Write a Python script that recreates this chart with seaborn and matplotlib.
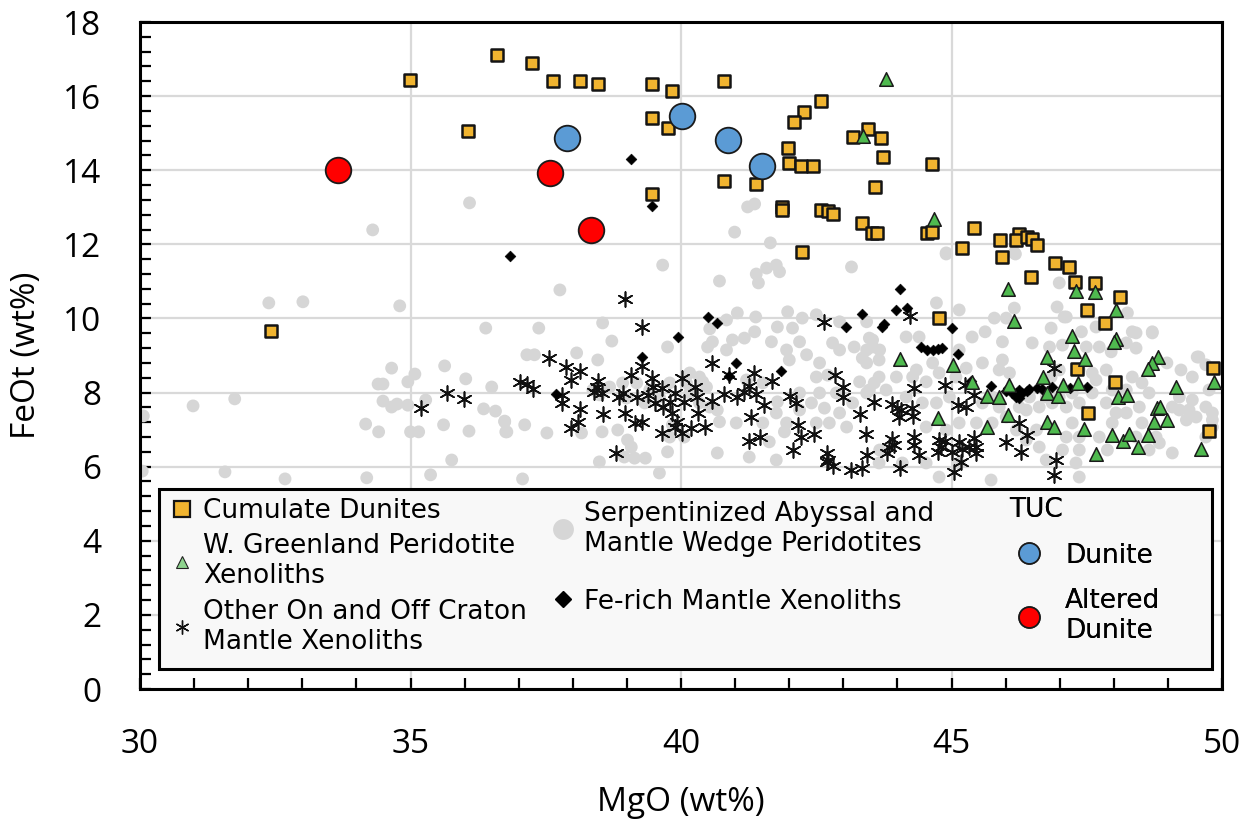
import matplotlib
matplotlib.use("Agg")
import matplotlib.pyplot as plt
from matplotlib.lines import Line2D
from matplotlib.patches import Rectangle
from matplotlib.ticker import MultipleLocator
import seaborn as sns
import pandas as pd

# ---- data: (MgO wt%, FeOt wt%) ----
cumulate_dunites = [
    (34.99, 16.44), (36.59, 17.11), (37.24, 16.90), (37.63, 16.41), (38.13, 16.41),
    (38.46, 16.33), (39.46, 16.33), (39.84, 16.14), (40.80, 16.41), (36.06, 15.06),
    (39.46, 15.41), (39.75, 15.14), (42.28, 15.57), (42.08, 15.30), (42.58, 15.87),
    (41.97, 14.60), (41.99, 14.20), (42.21, 14.12), (42.43, 14.12), (40.80, 13.71),
    (41.39, 13.63), (39.46, 13.36), (41.87, 13.01), (41.87, 12.93), (42.59, 12.93),
    (42.71, 12.90), (42.80, 12.82), (43.35, 12.58), (43.52, 12.31), (43.63, 12.31),
    (43.17, 14.90), (43.46, 15.11), (43.70, 14.87), (43.74, 14.36), (44.63, 14.17),
    (43.59, 13.55), (44.55, 12.31), (44.63, 12.33), (45.42, 12.44), (45.20, 11.90),
    (45.90, 12.12), (45.94, 11.66), (46.25, 12.28), (46.20, 12.12), (46.40, 12.20),
    (46.49, 12.15), (46.58, 11.98), (46.47, 11.12), (46.92, 11.50), (47.17, 11.39),
    (47.29, 10.99), (47.65, 10.96), (48.12, 10.58), (47.51, 10.23), (47.84, 9.88),
    (44.76, 10.01), (47.32, 8.64), (48.02, 8.29), (47.53, 7.45), (49.83, 8.66),
    (49.76, 6.96), (32.42, 9.66), (42.24, 11.79),
]

greenland_xenoliths = [
    (43.37, 14.93), (43.78, 16.46), (44.68, 12.69), (46.05, 10.80), (46.16, 9.93),
    (47.30, 10.74), (47.65, 10.72), (48.04, 10.23), (47.23, 9.53), (48.04, 9.45),
    (48.00, 9.37), (44.05, 8.91), (45.03, 8.75), (46.77, 8.96), (47.27, 9.12),
    (47.47, 8.91), (48.82, 8.96), (48.71, 8.80), (48.63, 8.64), (49.85, 8.29),
    (46.69, 8.42), (45.38, 8.29), (46.07, 8.20), (45.66, 7.91), (45.88, 7.88),
    (46.77, 7.99), (46.97, 7.91), (47.06, 8.20), (47.34, 8.26), (48.08, 7.88),
    (48.25, 7.94), (49.15, 8.15), (48.80, 7.58), (48.86, 7.60), (48.74, 7.21),
    (48.98, 7.26), (44.74, 7.31), (46.05, 7.40), (45.66, 7.07), (46.77, 7.21),
    (46.90, 7.07), (47.45, 7.02), (47.97, 6.86), (48.17, 6.69), (48.28, 6.88),
    (48.45, 6.53), (48.63, 6.86), (47.67, 6.34), (49.61, 6.48),
]

craton_xenoliths = [
    (35.19, 7.58), (35.67, 7.99), (35.98, 7.83),
    (38.97, 10.53), (39.27, 9.77), (37.55, 8.93), (37.88, 8.69), (38.13, 8.58),
    (37.96, 8.34), (37.03, 8.29), (37.15, 8.23), (37.26, 8.10), (37.79, 7.94),
    (37.79, 7.72), (38.14, 7.56), (38.09, 7.21), (37.96, 7.05), (38.55, 7.42),
    (38.46, 8.31), (38.44, 8.15), (38.39, 8.02), (38.53, 7.99), (38.92, 7.99),
    (38.86, 7.88), (39.07, 8.47), (39.27, 8.72), (39.18, 7.88), (38.97, 7.45),
    (39.14, 7.18), (39.27, 7.21), (38.79, 6.37), (39.47, 8.39), (39.49, 8.15),
    (39.64, 8.12), (39.38, 7.94), (39.51, 7.72), (39.66, 7.61), (39.79, 7.75),
    (39.88, 7.99), (40.01, 8.39), (40.06, 7.75), (39.84, 7.45), (39.92, 7.21),
    (39.88, 7.07), (40.01, 6.91), (40.18, 7.05), (39.64, 6.91), (40.31, 7.45),
    (40.44, 7.07), (40.25, 8.15), (40.29, 7.88), (40.58, 8.80), (40.58, 7.77),
    (40.80, 7.96), (40.89, 8.47), (41.04, 7.88), (41.17, 8.02), (41.26, 8.18),
    (41.35, 8.53), (41.39, 7.96), (41.54, 7.66), (41.30, 7.34), (41.25, 6.69),
    (41.45, 6.80), (41.69, 8.31), (42.02, 7.91), (42.13, 7.72), (42.17, 7.13),
    (42.22, 6.80), (42.45, 6.88), (42.06, 6.45), (42.65, 9.91), (42.85, 8.47),
    (43.00, 8.15), (43.00, 7.88), (43.30, 7.42), (43.41, 6.88), (43.57, 7.75),
    (42.69, 6.37), (42.71, 6.18), (42.80, 6.02), (43.15, 5.91), (43.35, 5.96),
    (43.43, 6.32),
    (44.24, 10.07), (44.31, 8.12), (44.87, 8.20), (45.24, 8.20), (45.42, 7.94),
    (43.89, 7.69), (44.07, 7.53), (44.03, 7.34), (44.28, 7.37), (43.89, 6.75),
    (43.85, 6.53), (43.81, 6.37), (44.31, 6.80), (44.31, 6.59), (44.40, 6.32),
    (44.77, 6.72), (44.81, 6.53), (44.74, 6.40), (45.14, 6.67), (45.20, 6.48),
    (45.42, 6.77), (45.46, 6.53), (45.46, 6.37), (45.05, 5.86), (44.04, 5.96),
    (45.11, 7.66), (45.27, 7.61), (46.01, 6.67), (46.29, 6.40), (46.25, 7.18),
    (46.40, 6.86), (46.93, 6.18), (46.90, 5.78), (46.90, 8.66),
    (43.94, 6.59), (44.27, 7.58), (44.87, 6.69), (45.01, 6.40), (45.18, 6.13),
    (45.33, 6.53), (42.69, 6.13), (44.00, 7.58),
]

fe_rich_xenoliths = [
    (39.07, 14.30), (39.46, 13.04), (36.83, 11.69), (40.49, 10.04), (40.66, 9.88),
    (39.95, 9.50), (39.27, 8.96), (41.02, 8.80), (40.88, 8.45), (41.84, 8.58),
    (37.68, 7.96), (43.35, 10.12), (43.04, 9.77), (43.72, 9.77), (43.76, 9.85),
    (44.04, 10.80), (43.98, 10.23), (44.18, 10.28), (45.01, 9.74), (45.11, 9.04),
    (44.44, 9.23), (44.55, 9.15), (44.65, 9.15), (44.74, 9.18), (44.83, 9.20),
    (45.36, 8.31), (45.73, 8.18), (46.05, 8.12), (46.20, 7.99), (46.25, 8.07),
    (46.31, 7.99), (46.44, 8.10), (46.57, 8.12), (46.68, 8.10), (46.86, 8.15),
    (47.19, 8.12), (47.51, 8.15), (46.20, 7.88), (46.25, 7.86), (46.12, 8.00),
    (46.40, 8.05), (46.00, 8.05),
]

serpentinized_peridotites = [
    (36.09, 13.12), (34.30, 12.39), (41.23, 13.01), (41.36, 13.09), (40.99, 12.33),
    (41.65, 12.04), (44.90, 11.74), (46.18, 11.74),
    (32.38, 10.42), (33.01, 10.45), (34.80, 10.34), (36.39, 9.74), (34.65, 8.66),
    (35.08, 8.50), (34.95, 8.29), (34.40, 8.23), (34.49, 8.23), (35.63, 8.72),
    (36.02, 8.37), (36.50, 8.15), (34.49, 7.77), (34.65, 7.61), (34.75, 7.69),
    (34.95, 7.66), (35.28, 7.80), (36.35, 7.56), (36.57, 7.50), (36.74, 7.23),
    (36.76, 6.94), (34.17, 7.15), (34.41, 6.94), (35.00, 6.94), (35.15, 6.94),
    (35.61, 7.13), (36.08, 6.96), (35.76, 6.18), (35.37, 5.78), (34.19, 5.70),
    (32.68, 5.67), (31.57, 5.86), (30.04, 5.88), (30.98, 7.64), (31.75, 7.83),
    (30.06, 7.37),
    (39.66, 11.44), (37.76, 10.77), (37.37, 9.74), (38.55, 9.88), (38.72, 9.39),
    (38.07, 9.07), (37.15, 9.02), (37.29, 9.02), (38.46, 8.88), (39.75, 9.23),
    (40.71, 11.01), (41.39, 11.20), (41.58, 11.36), (41.76, 11.44), (41.82, 11.26),
    (41.43, 10.96), (43.15, 11.39), (41.04, 10.15), (40.84, 9.96), (41.38, 10.04),
    (41.97, 10.18), (42.24, 10.01), (42.50, 10.10), (41.78, 9.77), (42.06, 9.74),
    (40.53, 9.72), (40.58, 9.37), (40.95, 9.42), (41.17, 9.47), (41.36, 9.64),
    (40.84, 9.15), (40.49, 9.23), (41.67, 9.37), (41.95, 9.15), (42.19, 9.37),
    (42.00, 8.88), (42.32, 9.02), (42.80, 9.34), (42.93, 9.15), (43.20, 9.23),
    (43.35, 8.93), (43.48, 9.47), (42.93, 9.91), (43.43, 9.91), (43.54, 9.23),
    (42.56, 8.80), (42.71, 8.47), (42.50, 8.42), (42.87, 7.99), (42.56, 7.99),
    (42.19, 7.99), (42.41, 7.72), (42.65, 7.58), (42.93, 7.45), (43.17, 7.72),
    (43.43, 7.99), (43.57, 8.26), (43.30, 8.29), (42.74, 7.18), (43.06, 7.07),
    (42.50, 7.18), (42.19, 7.53), (41.95, 7.18), (41.91, 6.94), (41.76, 7.45),
    (41.78, 7.75), (41.51, 8.26), (41.21, 8.34), (41.51, 7.18), (41.63, 6.67),
    (41.76, 6.18), (41.26, 6.26), (40.67, 6.37), (41.02, 7.18), (40.71, 7.21),
    (40.67, 7.53), (40.53, 7.61), (40.34, 7.72), (40.47, 8.15), (40.34, 8.42),
    (40.16, 8.53), (40.10, 8.26), (39.79, 8.26), (39.60, 7.88), (39.33, 7.72),
    (39.84, 7.13), (40.06, 6.80), (39.79, 6.80), (39.75, 6.40), (39.60, 5.83),
    (39.01, 6.72), (39.08, 6.53), (38.95, 6.26), (39.14, 6.23), (39.34, 6.23),
    (38.83, 6.99), (38.54, 6.94), (38.16, 6.91), (37.52, 6.91), (37.11, 7.13),
    (36.74, 7.21), (36.78, 6.94), (38.49, 6.13), (37.07, 5.67), (38.92, 8.26),
    (38.68, 8.15), (39.18, 8.26), (39.42, 8.07), (38.99, 7.85), (38.49, 7.94),
    (38.37, 8.07), (40.16, 7.99), (40.40, 8.29),
    (44.90, 11.77), (46.16, 11.77), (46.99, 10.96), (46.95, 10.31), (46.16, 10.28),
    (45.79, 10.01), (46.01, 10.01), (47.12, 10.04), (48.25, 10.15), (45.62, 9.64),
    (45.94, 9.37), (46.49, 9.34), (46.84, 9.74), (47.05, 9.28), (46.81, 9.23),
    (48.34, 9.64), (48.71, 9.64), (47.73, 9.23), (47.95, 9.10), (48.23, 9.34),
    (48.41, 9.20), (49.54, 8.96), (49.70, 8.75), (48.98, 8.80), (49.24, 8.61),
    (49.45, 8.42), (49.76, 8.07), (49.70, 7.61), (49.45, 7.80), (49.21, 7.88),
    (49.08, 7.61), (49.82, 7.45), (49.52, 7.34), (49.34, 7.26), (49.82, 7.07),
    (48.52, 8.26), (48.34, 8.42), (48.65, 7.99), (48.47, 7.61), (48.23, 7.45),
    (48.52, 7.18), (48.78, 6.80), (48.41, 6.80), (48.65, 6.45), (48.84, 6.64),
    (47.97, 7.18), (47.73, 6.80), (47.88, 6.45), (48.04, 7.45), (47.86, 7.72),
    (47.60, 7.99), (47.36, 7.72), (47.12, 7.61), (47.23, 7.18), (47.36, 6.80),
    (47.12, 6.80), (47.05, 6.45), (47.36, 6.45), (47.30, 6.10), (47.36, 5.72),
    (46.75, 6.18), (46.62, 6.53), (46.38, 6.72), (46.57, 6.99), (46.20, 6.99),
    (46.01, 7.34), (46.38, 7.53), (46.62, 7.61), (46.86, 7.72), (46.44, 7.88),
    (46.75, 7.88), (46.99, 7.88), (47.23, 7.99), (46.25, 7.61), (45.88, 7.61),
    (45.75, 7.18), (45.46, 7.18), (45.14, 7.18), (44.90, 6.99), (44.53, 7.07),
    (44.46, 7.72), (44.72, 7.72), (44.96, 7.88), (45.57, 7.72), (45.75, 7.88),
    (44.16, 7.88), (43.79, 8.07), (43.48, 8.07), (43.66, 8.42), (43.98, 8.42),
    (44.28, 8.42), (44.53, 8.29), (44.77, 8.53), (45.08, 8.42), (43.43, 8.80),
    (43.66, 8.88), (43.43, 9.15), (43.54, 9.42), (43.67, 9.15), (44.35, 8.61),
    (44.65, 8.80), (45.27, 8.66), (45.57, 8.80), (45.94, 8.88), (45.88, 8.61),
    (46.07, 8.53), (45.14, 9.15), (45.38, 9.50), (45.14, 10.23), (44.72, 10.42),
    (44.40, 9.50), (44.16, 9.50), (44.53, 6.10), (44.09, 6.10), (43.66, 6.10),
    (43.67, 6.45), (45.14, 6.10), (45.73, 5.64), (44.77, 5.72), (46.84, 8.42),
    (46.99, 8.61), (47.36, 8.61), (47.60, 8.53), (47.86, 8.61), (47.67, 8.34),
    (48.23, 8.07), (47.97, 8.07), (47.08, 10.04), (47.40, 9.64), (47.49, 9.23),
    (47.67, 9.77), (48.41, 9.61), (48.71, 9.61), (49.57, 8.96), (49.21, 7.53),
    (49.39, 7.53), (49.82, 7.26), (49.70, 6.80), (49.08, 6.37),
]

tuc_dunite = [(37.90, 14.87), (40.01, 15.47), (40.86, 14.82), (41.49, 14.12)]
tuc_altered_dunite = [(33.66, 14.01), (37.57, 13.93), (38.33, 12.39)]

# ---- colours ----
ORANGE = "#f0b430"
GREEN = "#4fba4f"
GREY = "#d6d6d6"
BLUE = "#5b9bd5"
RED = "#ff0000"


def frame(points):
    return pd.DataFrame(points, columns=["MgO", "FeOt"])


sns.set_theme(style="white")
plt.rcParams["font.family"] = ["Open Sans", "DejaVu Sans"]
for key in ("text.color", "axes.labelcolor", "xtick.color", "ytick.color"):
    plt.rcParams[key] = "black"

fig = plt.figure(figsize=(12.56, 8.22), dpi=100)
ax = fig.add_axes([0.1115, 0.1618, 0.8615, 0.8114])

sns.scatterplot(data=frame(serpentinized_peridotites), x="MgO", y="FeOt", ax=ax,
                color=GREY, s=85, edgecolor="none", zorder=2)
sns.scatterplot(data=frame(craton_xenoliths), x="MgO", y="FeOt", ax=ax,
                marker=(6, 2, 0), color="#111111", s=115, linewidth=1.2, zorder=3)
sns.scatterplot(data=frame(fe_rich_xenoliths), x="MgO", y="FeOt", ax=ax,
                marker="D", color="black", s=30, edgecolor="black", zorder=4)
sns.scatterplot(data=frame(cumulate_dunites), x="MgO", y="FeOt", ax=ax,
                marker="s", color=ORANGE, s=80, edgecolor="#141414",
                linewidth=1.8, zorder=5)
sns.scatterplot(data=frame(greenland_xenoliths), x="MgO", y="FeOt", ax=ax,
                marker="^", color=GREEN, s=95, edgecolor="#1a1a1a",
                linewidth=1.1, zorder=6)
sns.scatterplot(data=frame(tuc_dunite), x="MgO", y="FeOt", ax=ax,
                marker="o", color=BLUE, s=340, edgecolor="#1a1a1a",
                linewidth=1.3, zorder=7)
sns.scatterplot(data=frame(tuc_altered_dunite), x="MgO", y="FeOt", ax=ax,
                marker="o", color=RED, s=340, edgecolor="#1a1a1a",
                linewidth=1.3, zorder=7)

# ---- axes ----
ax.set_xlim(30, 50)
ax.set_ylim(0, 18)
ax.xaxis.set_major_locator(MultipleLocator(5))
ax.xaxis.set_minor_locator(MultipleLocator(1))
ax.yaxis.set_major_locator(MultipleLocator(2))
ax.yaxis.set_minor_locator(MultipleLocator(0.4))
ax.set_axisbelow(True)
ax.grid(True, which="major", color="#d9d9d9", linewidth=1.6)
ax.tick_params(which="both", direction="in", length=8, width=1.6,
               color="black", bottom=True, left=True, top=False, right=False)
ax.tick_params(which="major", labelsize=24, pad=28)
for spine in ax.spines.values():
    spine.set_color("black")
    spine.set_linewidth(2.2)
ax.set_xlabel("MgO (wt%)", fontsize=24, labelpad=18)
ax.set_ylabel("FeOt (wt%)", fontsize=24, labelpad=14)

# ---- legend: one framed box holding three columns ----
box = Rectangle((0.0175, 0.030), 0.9735, 0.270, transform=ax.transAxes,
                facecolor="#f8f8f8", edgecolor="black", linewidth=2.2, zorder=20)
ax.add_patch(box)

leg_font = {"family": "DejaVu Sans", "size": 19}

col1_handles = [
    Line2D([], [], linestyle="none", marker="s", markersize=11,
           markerfacecolor=ORANGE, markeredgecolor="#141414", markeredgewidth=1.6),
    Line2D([], [], linestyle="none", marker="^", markersize=9,
           markerfacecolor="#8ed48e", markeredgecolor="#222222", markeredgewidth=0.8),
    Line2D([], [], linestyle="none", marker=(6, 2, 0), markersize=10,
           color="#111111", markeredgewidth=1.0),
]
col1_labels = ["Cumulate Dunites", "W. Greenland Peridotite\nXenoliths",
               "Other On and Off Craton\nMantle Xenoliths"]

col2_handles = [
    Line2D([], [], linestyle="none", marker="o", markersize=15,
           markerfacecolor=GREY, markeredgecolor="none"),
    Line2D([], [], linestyle="none", marker="D", markersize=8,
           markerfacecolor="black", markeredgecolor="black"),
]
col2_labels = ["Serpentinized Abyssal and\nMantle Wedge Peridotites",
               "Fe-rich Mantle Xenoliths"]

col3_handles = [
    Line2D([], [], linestyle="none", marker="o", markersize=15,
           markerfacecolor=BLUE, markeredgecolor="#1a1a1a", markeredgewidth=1.2),
    Line2D([], [], linestyle="none", marker="o", markersize=15,
           markerfacecolor=RED, markeredgecolor="#1a1a1a", markeredgewidth=1.2),
]
col3_labels = ["Dunite", "Altered\nDunite"]

common = dict(frameon=False, prop=leg_font, borderpad=0, borderaxespad=0,
              loc="upper left", handlelength=0.8, handleheight=0.8,
              labelcolor="black")

leg1 = ax.legend(col1_handles, col1_labels, bbox_to_anchor=(0.029, 0.286),
                 labelspacing=0.35, handletextpad=0.4, **common)
leg2 = ax.legend(col2_handles, col2_labels, bbox_to_anchor=(0.381, 0.282),
                 labelspacing=1.2, handletextpad=0.4, **common)
common3 = dict(common)
common3["handlelength"] = 1.45
leg3 = ax.legend(col3_handles, col3_labels, bbox_to_anchor=(0.8035, 0.288),
                 labelspacing=0.75, handletextpad=0.65, title="TUC",
                 title_fontproperties=leg_font, alignment="left", **common3)
for leg in (leg1, leg2, leg3):
    leg.set_zorder(21)
    ax.add_artist(leg)

fig.savefig("out.png", dpi=100)
